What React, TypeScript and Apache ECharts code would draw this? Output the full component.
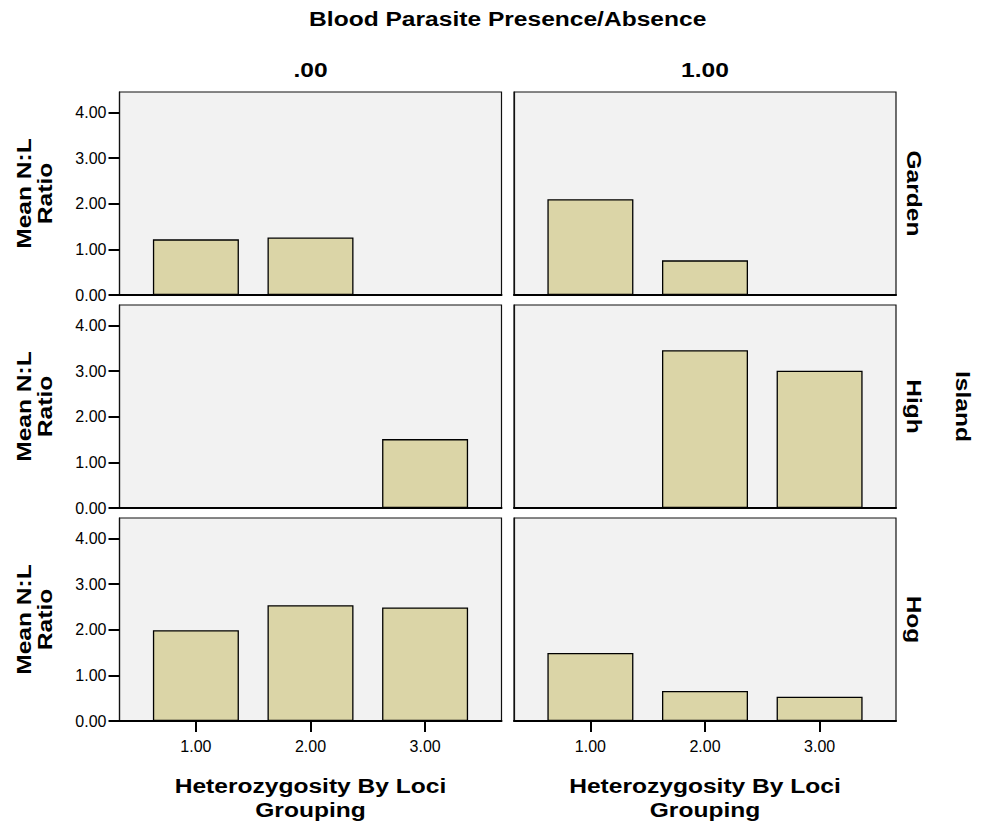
import React, { useEffect, useRef } from "react";
import * as echarts from "echarts";

// Heterozygosity groups on the x axis and the y tick values
const heteroGroups = [1, 2, 3];
const yTickValues = [0, 1, 2, 3, 4];

// Column panels: blood parasite absence (.00) / presence (1.00)
const parasiteLevels = [".00", "1.00"];
// Row panels: island
const islands = ["Garden", "High", "Hog"];

// Mean N:L ratio per heterozygosity group (null = no birds in that cell)
const gardenAbsent = [1.22, 1.26, null];
const gardenPresent = [2.1, 0.76, null];
const highAbsent = [null, null, 1.51];
const highPresent = [null, 3.46, 3.01];
const hogAbsent = [1.99, 2.54, 2.49];
const hogPresent = [1.49, 0.66, 0.53];

const panelValues = [
  [gardenAbsent, gardenPresent],
  [highAbsent, highPresent],
  [hogAbsent, hogPresent],
];

const FONT = "'Liberation Sans', Arial, Helvetica, sans-serif";
const BAR_FILL = "#dbd5a7";
const PANEL_BG = "#f2f2f2";

const colLeft = [119.5, 514];
const colWidth = 382;
const rowTop = [92, 305, 518];
const rowHeight = 203;
const Y_MAX = 4.45;
const STRETCH = 1.17;

export default function App() {
  const ref = useRef<HTMLDivElement>(null);

  useEffect(() => {
    if (!ref.current) return;
    const chart = echarts.init(ref.current, null, { renderer: "svg" });

    const grid: any[] = [];
    const xAxis: any[] = [];
    const yAxis: any[] = [];
    const series: any[] = [];

    panelValues.forEach((row, r) => {
      row.forEach((vals, c) => {
        const idx = grid.length;
        const isBottom = r === panelValues.length - 1;
        const isLeft = c === 0;
        grid.push({
          left: colLeft[c],
          top: rowTop[r],
          width: colWidth,
          height: rowHeight,
          show: true,
          backgroundColor: PANEL_BG,
          borderColor: "#111",
          borderWidth: 1.2,
        });
        xAxis.push({
          type: "value",
          gridIndex: idx,
          min: 1 / 3,
          max: 11 / 3,
          splitLine: { show: false },
          axisLine: { show: true, onZero: false, lineStyle: { color: "#000", width: 2 } },
          axisTick: {
            show: isBottom,
            customValues: heteroGroups,
            length: 11,
            lineStyle: { color: "#000", width: 2 },
          },
          axisLabel: {
            show: isBottom,
            customValues: heteroGroups,
            margin: 17,
            fontSize: 16,
            fontFamily: FONT,
            color: "#000",
            formatter: (v: number) => v.toFixed(2),
          },
        });
        yAxis.push({
          type: "value",
          gridIndex: idx,
          min: 0,
          max: Y_MAX,
          splitLine: { show: false },
          axisLine: { show: true, lineStyle: { color: "#111", width: 1.2 } },
          axisTick: {
            show: isLeft,
            customValues: yTickValues,
            length: 11,
            lineStyle: { color: "#000", width: 2 },
          },
          axisLabel: {
            show: isLeft,
            customValues: yTickValues,
            margin: 13,
            fontSize: 16,
            fontFamily: FONT,
            color: "#000",
            formatter: (v: number) => v.toFixed(2),
          },
        });
        series.push({
          type: "bar",
          xAxisIndex: idx,
          yAxisIndex: idx,
          barWidth: 86,
          data: heteroGroups
            .map((g, i) => [g, vals[i]])
            .filter((d) => d[1] !== null),
          itemStyle: { color: BAR_FILL, borderColor: "#000", borderWidth: 1.3 },
        });
      });
    });

    const boldText = (
      text: string,
      x: number,
      y: number,
      rotation = 0,
      lineHeight = 22
    ) => ({
      type: "text",
      x,
      y,
      rotation,
      scaleX: STRETCH,
      style: {
        text,
        fontSize: 21,
        fontWeight: "bold",
        fontFamily: FONT,
        fill: "#000",
        align: "center",
        verticalAlign: "middle",
        lineHeight,
      },
    });

    const graphic: any[] = [];
    graphic.push(boldText("Blood Parasite Presence/Absence", 507.7, 19));
    parasiteLevels.forEach((lvl, c) => {
      graphic.push(boldText(lvl, colLeft[c] + colWidth / 2, 70));
      graphic.push(
        boldText("Heterozygosity By Loci\nGrouping", colLeft[c] + colWidth / 2, 798, 0, 24)
      );
    });
    islands.forEach((name, r) => {
      const cy = rowTop[r] + rowHeight / 2;
      graphic.push(boldText("Mean N:L\nRatio", 34.5, cy, Math.PI / 2, 21));
      graphic.push(boldText(name, 914, cy, -Math.PI / 2));
    });
    graphic.push(boldText("Island", 963, rowTop[1] + rowHeight / 2, -Math.PI / 2));

    chart.setOption({
      animation: false,
      backgroundColor: "#fff",
      grid,
      xAxis,
      yAxis,
      series,
      graphic,
    });

    return () => chart.dispose();
  }, []);

  return (
    <div
      ref={ref}
      style={{ position: "absolute", left: 0, top: 0, width: 981, height: 827 }}
    />
  );
}
